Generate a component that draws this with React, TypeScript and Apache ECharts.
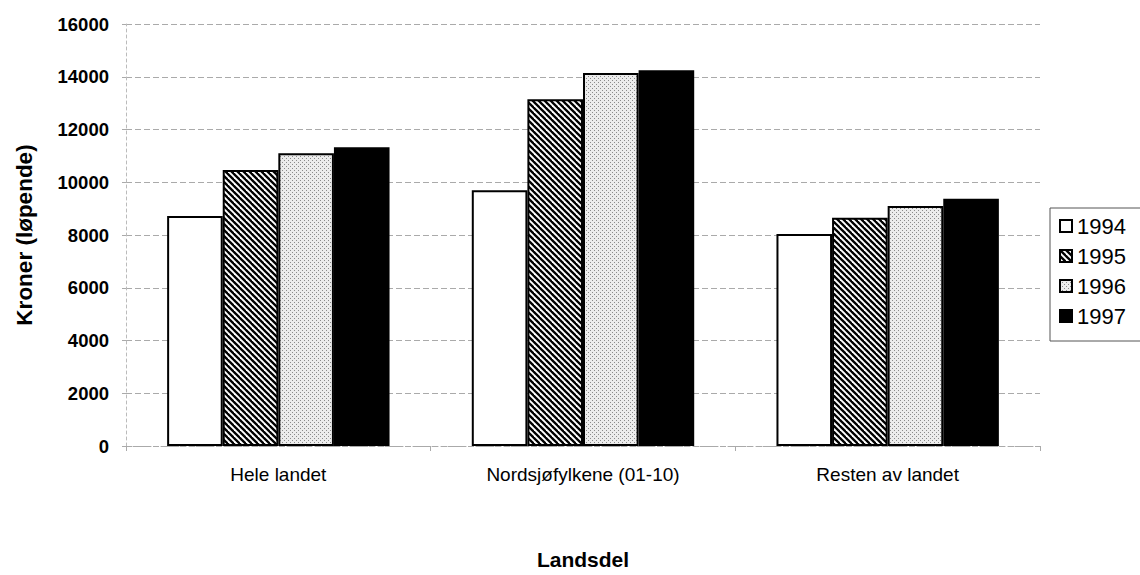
import React, { useEffect, useRef } from "react";
import * as echarts from "echarts";

const categories = ["Hele landet", "Nordsjøfylkene (01-10)", "Resten av landet"];
const years = ["1994", "1995", "1996", "1997"];
const values1994 = [8720, 9700, 8040];
const values1995 = [10460, 13150, 8650];
const values1996 = [11100, 14140, 9100];
const values1997 = [11330, 14250, 9370];
const yTicks = [0, 2000, 4000, 6000, 8000, 10000, 12000, 14000, 16000];

function makeHatch(): HTMLCanvasElement {
  const c = document.createElement("canvas");
  c.width = 6;
  c.height = 6;
  const ctx = c.getContext("2d")!;
  ctx.fillStyle = "#ffffff";
  ctx.fillRect(0, 0, 6, 6);
  ctx.strokeStyle = "#000000";
  ctx.lineWidth = 2.3;
  for (const k of [-6, 0, 6]) {
    ctx.beginPath();
    ctx.moveTo(k - 1, -1);
    ctx.lineTo(k + 7, 7);
    ctx.stroke();
  }
  return c;
}

function makeDots(): HTMLCanvasElement {
  const c = document.createElement("canvas");
  c.width = 4;
  c.height = 4;
  const ctx = c.getContext("2d")!;
  ctx.fillStyle = "#ececec";
  ctx.fillRect(0, 0, 4, 4);
  ctx.fillStyle = "#8a8a8a";
  ctx.fillRect(0, 0, 1, 1);
  ctx.fillRect(2, 2, 1, 1);
  return c;
}

export default function App() {
  const ref = useRef<HTMLDivElement>(null);
  useEffect(() => {
    if (!ref.current) return;
    const chart = echarts.init(ref.current, undefined, { renderer: "svg" });
    const hatch = makeHatch();
    const dots = makeDots();
    const fills: any[] = [
      "#ffffff",
      { image: hatch, repeat: "repeat", imageWidth: 6, imageHeight: 6 },
      { image: dots, repeat: "repeat", imageWidth: 4, imageHeight: 4 },
      "#000000",
    ];
    const data = [values1994, values1995, values1996, values1997];
    const font = "'Liberation Sans', Arial, sans-serif";
    chart.setOption({
      animation: false,
      textStyle: { fontFamily: font, color: "#000" },
      grid: { left: 126, right: 100, top: 24, bottom: 129, containLabel: false, outerBoundsMode: "none" },
      legend: {
        orient: "vertical",
        left: 1050,
        top: 208,
        data: years.map((y) => ({ name: y, icon: "rect" })),
        itemWidth: 12,
        itemHeight: 12,
        itemGap: 8,
        padding: [7, 30, 14, 9],
        borderColor: "#555",
        borderWidth: 1,
        textStyle: { fontSize: 22, color: "#000", fontFamily: font },
      },
      xAxis: {
        type: "category",
        data: categories,
        name: "Landsdel",
        nameLocation: "middle",
        nameGap: 103,
        nameTextStyle: { fontSize: 21, fontWeight: "bold", color: "#000", fontFamily: font },
        axisLine: { lineStyle: { color: "#aaa", type: [4, 3], width: 1 } },
        axisTick: { show: true, length: 5, lineStyle: { color: "#aaa" } },
        axisLabel: { fontSize: 19, color: "#000", margin: 19, fontFamily: font },
        splitLine: { show: false },
      },
      yAxis: {
        type: "value",
        min: 0,
        max: 16000,
        interval: 2000,
        name: "Kroner (løpende)",
        nameLocation: "middle",
        nameGap: 90,
        nameTextStyle: { fontSize: 22.5, fontWeight: "bold", color: "#000", fontFamily: font },
        axisLine: { show: true, lineStyle: { color: "#bbb", type: [3, 3], width: 1 } },
        axisTick: { show: true, length: 4, lineStyle: { color: "#aaa" } },
        axisLabel: {
          fontSize: 18.5,
          fontWeight: "bold",
          color: "#000",
          margin: 17,
          fontFamily: font,
          formatter: (v: number) => (yTicks.includes(v) ? String(v) : ""),
        },
        splitLine: { show: true, lineStyle: { color: "#aaa", type: [6, 3], width: 1 } },
      },
      series: years.map((y, i) => ({
        name: y,
        type: "bar",
        data: data[i],
        barGap: "0%",
        barCategoryGap: "27%",
        itemStyle: {
          color: fills[i],
          borderColor: "#000",
          borderWidth: 2,
        },
      })),
    });
    return () => chart.dispose();
  }, []);
  return (
    <div
      ref={ref}
      style={{ position: "absolute", left: 0, top: 0, width: 1140, height: 575, background: "#fff" }}
    />
  );
}
